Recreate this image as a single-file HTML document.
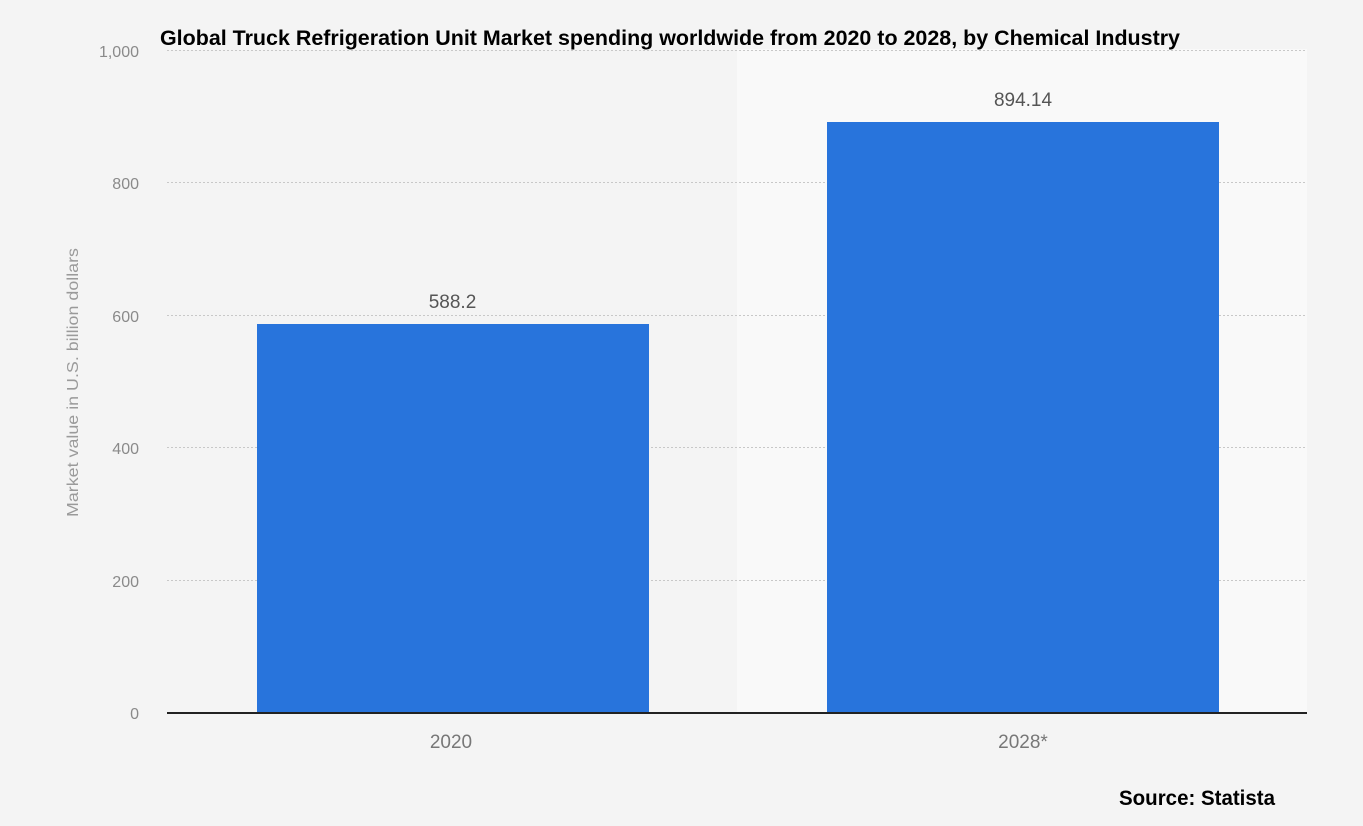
<!DOCTYPE html>
<html>
<head>
<meta charset="utf-8">
<style>
  html, body { margin: 0; padding: 0; background: #f4f4f4; }
  svg { display: block; }
</style>
</head>
<body>
<svg width="1363" height="826" viewBox="0 0 1363 826" xmlns="http://www.w3.org/2000/svg">
  <rect x="0" y="0" width="1363" height="826" fill="#f4f4f4"/>
  <!-- lighter right band -->
  <rect x="737" y="49" width="570" height="664" fill="#f9f9f9"/>

  <!-- gridlines -->
  <g stroke="#c8c8c8" stroke-width="1" stroke-dasharray="2,2">
    <line x1="167" y1="50.5" x2="1307" y2="50.5"/>
    <line x1="167" y1="182.5" x2="1307" y2="182.5"/>
    <line x1="167" y1="315.5" x2="1307" y2="315.5"/>
    <line x1="167" y1="447.5" x2="1307" y2="447.5"/>
    <line x1="167" y1="580.5" x2="1307" y2="580.5"/>
  </g>

  <!-- bars -->
  <rect x="257" y="324" width="392" height="389" fill="#2874dc"/>
  <rect x="827" y="122" width="392" height="591" fill="#2874dc"/>

  <!-- baseline -->
  <line x1="167" y1="713" x2="1307" y2="713" stroke="#222" stroke-width="2"/>

  <!-- y tick labels -->
  <g font-family="Liberation Sans, Arial, sans-serif" font-size="16" fill="#8a8a8a" text-anchor="end">
    <text x="139" y="57">1,000</text>
    <text x="139" y="189">800</text>
    <text x="139" y="322">600</text>
    <text x="139" y="454">400</text>
    <text x="139" y="587">200</text>
    <text x="139" y="719">0</text>
  </g>

  <!-- y axis title -->
  <text x="0" y="0" transform="translate(78,382.5) rotate(-90)" font-family="Liberation Sans, Arial, sans-serif" font-size="15.5" fill="#9a9a9a" text-anchor="middle" textLength="269" lengthAdjust="spacingAndGlyphs">Market value in U.S. billion dollars</text>

  <!-- value labels -->
  <g font-family="Liberation Sans, Arial, sans-serif" font-size="19" fill="#555" text-anchor="middle">
    <text x="452.5" y="308">588.2</text>
    <text x="1023" y="106">894.14</text>
  </g>

  <!-- x labels -->
  <g font-family="Liberation Sans, Arial, sans-serif" font-size="19" fill="#777" text-anchor="middle">
    <text x="451" y="748">2020</text>
    <text x="1023" y="748">2028*</text>
  </g>

  <!-- title -->
  <text x="160" y="45" font-family="Liberation Sans, Arial, sans-serif" font-size="21" font-weight="bold" fill="#000" textLength="1020" lengthAdjust="spacingAndGlyphs">Global Truck Refrigeration Unit Market spending worldwide from 2020 to 2028, by Chemical Industry</text>

  <!-- source -->
  <text x="1119" y="805" font-family="Liberation Sans, Arial, sans-serif" font-size="21" font-weight="bold" fill="#000" textLength="156" lengthAdjust="spacingAndGlyphs">Source: Statista</text>
</svg>
</body>
</html>
